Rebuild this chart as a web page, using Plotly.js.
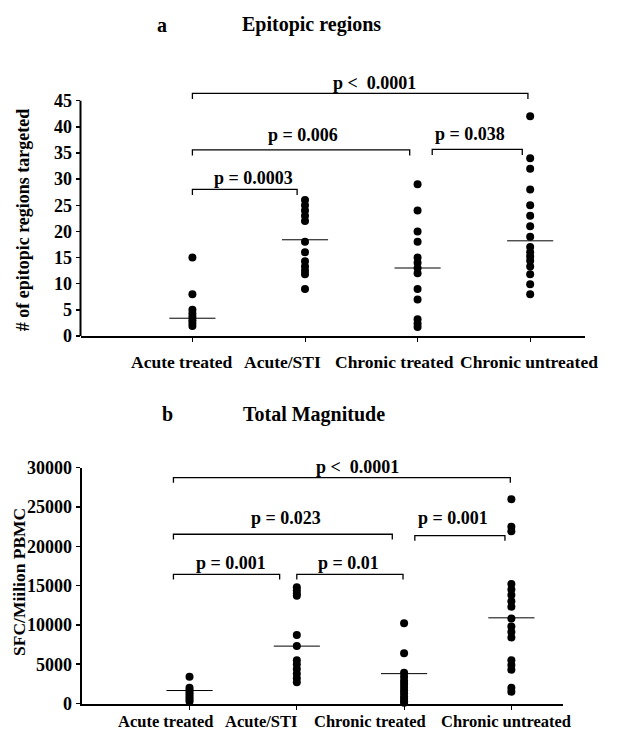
<!DOCTYPE html>
<html>
<head>
<meta charset="utf-8">
<script src="https://cdn.plot.ly/plotly-3.0.1.min.js"></script>
<style>html,body{margin:0;padding:0;background:#fff;}#chart{width:630px;height:736px;}</style>
</head>
<body>
<div id="chart"></div>
<script>
// ---- data ----
const categories = ["Acute treated", "Acute/STI", "Chronic treated", "Chronic untreated"];

// Panel a: # of epitopic regions targeted
const epiAcuteTreated = [15, 8, 5, 4.3, 3.7, 3, 2.5, 1.9];
const epiAcuteSTI = [26, 25, 24, 23, 22, 18, 16, 14.3, 13.3, 12.5, 11.8, 9];
const epiChronicTreated = [29, 24, 20, 18, 15, 14, 13, 12, 9, 7, 3.2, 2.4, 1.7];
const epiChronicUntreated = [42, 34, 32, 28, 25, 23, 21, 19, 17, 16, 15.2, 14.4, 13.3, 11.8, 9.9, 8];
const epiCentre = [3.4, 18.4, 13.0, 18.2];

// Panel b: SFC / million PBMC
const magAcuteTreated = [3400, 2000, 1700, 1400, 1100, 800, 500, 250];
const magAcuteSTI = [14800, 14400, 14000, 13700, 8700, 7300, 5500, 5000, 4400, 3800, 3200, 2700];
const magChronicTreated = [10200, 6400, 3900, 3400, 2900, 2500, 2100, 1700, 1300, 900, 600, 300, 100];
const magChronicUntreated = [26000, 22500, 21900, 15200, 14500, 13800, 13000, 12300, 10800, 9800, 9100, 8400, 5500, 4900, 4300, 2000, 1500];
const magCentre = [1650, 7300, 3800, 10900];

// comparison brackets: [from group, to group, level, label]
const epiBrackets = [
  [0, 2.98, 46.4, "p &lt;  0.0001"],
  [0, 1.93, 35.6, "p = 0.006"],
  [0, 0.93, 28.05, "p = 0.0003"],
  [2.13, 2.93, 35.7, "p = 0.038"]
];
const magBrackets = [
  [-0.15, 2.99, 28730, "p &lt;  0.0001"],
  [-0.15, 1.89, 21530, "p = 0.023"],
  [-0.15, 0.84, 16440, "p = 0.001"],
  [1.0, 1.99, 16440, "p = 0.01"],
  [2.10, 2.94, 21350, "p = 0.001"]
];

// ---- layout helpers ----
const W = 630, H = 736;
const FONT = "'Liberation Serif', 'Times New Roman', serif";
const px = v => v / W;
const py = v => 1 - v / H;

const epiX = {domain: [px(80.5), px(585)], range: [-0.994, 3.487]};
const epiY = {domain: [py(336), py(90.2)], range: [0, 47]};
const magX = {domain: [px(81.5), px(563.3)], range: [-1.007, 3.484]};
const magY = {domain: [py(703.5), py(467.7)], range: [0, 30000]};
// convert a data value to paper coordinates through an axis' domain/range
const toPaper = (ax, v) => ax.domain[0] + (v - ax.range[0]) / (ax.range[1] - ax.range[0]) * (ax.domain[1] - ax.domain[0]);

const epiGroups = [epiAcuteTreated, epiAcuteSTI, epiChronicTreated, epiChronicUntreated];
const magGroups = [magAcuteTreated, magAcuteSTI, magChronicTreated, magChronicUntreated];

const traces = [];
function addPanel(groups, centres, halfW, xa, ya) {
  groups.forEach((g, i) => {
    traces.push({
      type: "scatter", mode: "markers", xaxis: xa, yaxis: ya,
      x: g.map(() => i), y: g,
      marker: {color: "#000", size: 8}, hoverinfo: "y", showlegend: false, cliponaxis: false
    });
    traces.push({
      type: "scatter", mode: "lines", xaxis: xa, yaxis: ya,
      x: [i - halfW, i + halfW], y: [centres[i], centres[i]],
      line: {color: "#000", width: 1}, hoverinfo: "skip", showlegend: false
    });
  });
}
addPanel(epiGroups, epiCentre, 0.205, "x", "y");
addPanel(magGroups, magCentre, 0.215, "x2", "y2");

const shapes = [];
const annotations = [];
function addBrackets(list, xr, yr, drop) {
  list.forEach(b => {
    const [x0, x1, lev] = b;
    shapes.push({type: "path", xref: xr, yref: yr,
      path: `M ${x0} ${lev - drop} L ${x0} ${lev} L ${x1} ${lev} L ${x1} ${lev - drop}`,
      line: {color: "#000", width: 1.3}});
  });
}
addBrackets(epiBrackets, "x", "y", 1.1);
addBrackets(magBrackets, "x2", "y2", 650);

function note(x, y, t, font, angle) {
  annotations.push({xref: "paper", yref: "paper", x: x, y: y, text: t, showarrow: false,
    xanchor: "center", yanchor: "middle", textangle: angle || 0, font: font});
}

const pFont = {family: FONT, size: 18, color: "#000", weight: "bold"};
// bracket labels (text positions)
const epiLabelPos = [[1.62, 48.4], [0.98, 38.4], [0.54, 30.2], [2.47, 38.6]];
epiBrackets.forEach((b, k) => note(toPaper(epiX, epiLabelPos[k][0]), toPaper(epiY, epiLabelPos[k][1]), b[3], pFont));
const magLabelPos = [[1.57, 30050], [0.90, 23560], [0.385, 17910], [1.48, 17840], [2.46, 23560]];
magBrackets.forEach((b, k) => note(toPaper(magX, magLabelPos[k][0]), toPaper(magY, magLabelPos[k][1]), b[3], pFont));

// y axis line for panel a (only up to 45)
shapes.push({type: "line", xref: "paper", yref: "y", x0: px(80.5), x1: px(80.5), y0: 0, y1: 45,
  line: {color: "#000", width: 2}});

// category labels
const catFontA = {family: FONT, size: 17.5, color: "#000", weight: "bold"};
const catFontB = {family: FONT, size: 16.5, color: "#000", weight: "bold"};
const epiLabelX = [-0.098, 0.803, 1.792, 2.99];
const magLabelX = [-0.228, 0.666, 1.678, 2.954];
categories.forEach((c, i) => {
  note(toPaper(epiX, epiLabelX[i]), py(361.7), c, catFontA);
  note(toPaper(magX, magLabelX[i]), py(721.7), c, catFontB);
});

// titles
const titleFont = {family: FONT, size: 20, color: "#000", weight: "bold"};
note(px(162), py(25), "a", titleFont);
note(px(311.7), py(25), "Epitopic regions", titleFont);
note(px(167), py(414), "b", titleFont);
note(px(314), py(414), "Total Magnitude", titleFont);
note(px(23.3), py(220), "# of epitopic regions targeted", {family: FONT, size: 18, color: "#000", weight: "bold"}, -90);
note(px(18.3), py(581.7), "SFC/Miilion PBMC", {family: FONT, size: 17.5, color: "#000", weight: "bold"}, -90);

const tickFont = {family: FONT, size: 18, color: "#000", weight: "bold"};
const layout = {
  width: W, height: H,
  margin: {l: 0, r: 0, t: 0, b: 0},
  paper_bgcolor: "#fff", plot_bgcolor: "rgba(0,0,0,0)",
  showlegend: false,
  xaxis: Object.assign({}, epiX, {showgrid: false, zeroline: false,
    showline: true, linecolor: "#000", linewidth: 2, ticks: "outside", ticklen: 4, tickcolor: "#000",
    tickvals: [0, 1, 2, 3], showticklabels: false, anchor: "y", fixedrange: true}),
  yaxis: Object.assign({}, epiY, {showgrid: false, zeroline: false,
    showline: false, ticks: "outside", ticklen: 4, tickcolor: "#000", tickwidth: 1.5,
    tickvals: [0, 5, 10, 15, 20, 25, 30, 35, 40, 45], tickfont: tickFont, anchor: "x", fixedrange: true}),
  xaxis2: Object.assign({}, magX, {showgrid: false, zeroline: false,
    showline: true, linecolor: "#000", linewidth: 2, ticks: "outside", ticklen: 4, tickcolor: "#000",
    tickvals: [0, 1, 2, 3], showticklabels: false, anchor: "y2", fixedrange: true}),
  yaxis2: Object.assign({}, magY, {showgrid: false, zeroline: false,
    showline: true, linecolor: "#000", linewidth: 2, ticks: "outside", ticklen: 4, tickcolor: "#000", tickwidth: 1.5,
    tickvals: [0, 5000, 10000, 15000, 20000, 25000, 30000], tickformat: "d", tickfont: tickFont,
    anchor: "x2", fixedrange: true}),
  shapes: shapes,
  annotations: annotations
};

Plotly.newPlot("chart", traces, layout, {displayModeBar: false, staticPlot: true});
</script>
</body>
</html>
